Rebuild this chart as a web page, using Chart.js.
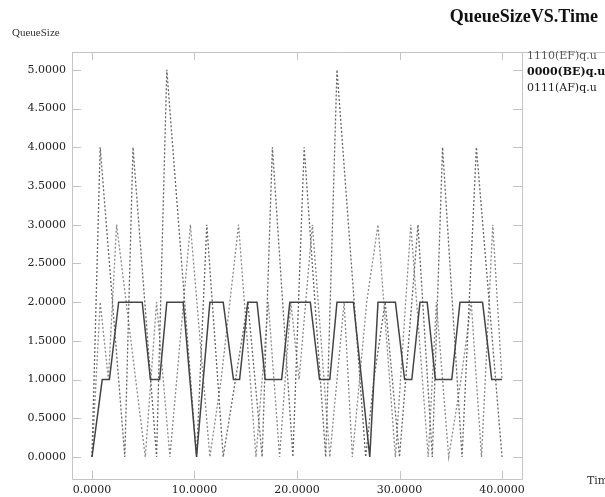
<!DOCTYPE html>
<html><head><meta charset="utf-8">
<script src="https://cdn.jsdelivr.net/npm/chart.js@4.4.0/dist/chart.umd.min.js"></script>
<style>html,body{margin:0;padding:0;background:#fff;overflow:hidden}canvas{display:block}</style>
</head><body>
<canvas id="c" width="605" height="497"></canvas>
<script>
const chartTitle = "QueueSizeVS.Time";
const yAxisTitle = "QueueSize";
const xAxisTitle = "Time";
const seriesLabels = ["1110(EF)q.u", "0000(BE)q.u", "0111(AF)q.u"];
const xTicks = [0, 10, 20, 30, 40];
const yTicks = [0, 0.5, 1, 1.5, 2, 2.5, 3, 3.5, 4, 4.5, 5];

// EF queue (solid)
const efTime = [0, 1.0, 1.7, 2.6, 4.9, 5.7, 6.6, 7.3, 8.9, 10.2, 11.5, 12.8, 13.8, 14.4, 15.2, 16.1, 16.9, 18.5, 19.3, 21.3, 22.2, 23.2, 23.9, 25.5, 27.1, 27.9, 29.6, 30.5, 31.2, 32.0, 32.7, 33.5, 35.1, 35.9, 38.1, 39.0, 40.0];
const efSize = [0, 1, 1, 2, 2, 1, 1, 2, 2, 0, 2, 2, 1, 1, 2, 2, 1, 1, 2, 2, 1, 1, 2, 2, 0, 2, 2, 1, 1, 2, 2, 1, 1, 2, 2, 1, 1];

// BE queue (dark dotted)
const beTime = [0, 0.8, 3.2, 4.0, 6.3, 7.3, 10.2, 11.2, 12.8, 14.0, 15.2, 16.6, 17.6, 19.6, 20.7, 22.8, 23.9, 26.7, 27.5, 28.6, 30.0, 31.8, 33.2, 34.2, 36.1, 37.5, 40.0];
const beSize = [0, 4, 0, 4, 0, 5, 0, 3, 0, 1, 2, 0, 4, 0, 4, 0, 5, 0, 1, 2, 0, 3, 0, 4, 0, 4, 0];

// AF queue (light dotted)
const afTime = [0, 0.8, 1.6, 2.4, 5.2, 6.3, 7.6, 9.6, 11.5, 12.6, 14.3, 16.0, 17.2, 18.3, 19.4, 20.2, 21.5, 23.2, 24.6, 25.4, 26.8, 27.9, 29.6, 31.1, 32.8, 33.6, 34.8, 36.0, 37.0, 38.0, 39.1, 40.0];
const afSize = [0, 2, 1, 3, 0, 2, 0, 3, 0, 1, 3, 0, 2, 0, 2, 1, 3, 0, 2, 0, 2, 3, 0, 3, 0, 2, 0, 1, 2, 0, 3, 1];

const toPts = (t, v) => t.map((x, i) => ({x: x, y: v[i]}));

const serif = "'Liberation Serif','DejaVu Serif',serif";
const wideSerif = "'DejaVu Serif','Liberation Serif',serif";

const decor = {
  id: 'decor',
  beforeDatasetsDraw(chart) {
    const ctx = chart.ctx, ca = chart.chartArea;
    const xs = chart.scales.x, ys = chart.scales.y;
    ctx.save();
    ctx.strokeStyle = '#c4c4c4';
    ctx.lineWidth = 1;
    ctx.beginPath();
    ctx.moveTo(ca.left + 0.5, ca.top + 0.5); ctx.lineTo(605, ca.top + 0.5);
    ctx.moveTo(ca.left + 0.5, ca.top); ctx.lineTo(ca.left + 0.5, ca.bottom + 0.5);
    ctx.lineTo(ca.right + 0.5, ca.bottom + 0.5);
    ctx.moveTo(ca.right + 0.5, ca.top); ctx.lineTo(ca.right + 0.5, ca.bottom + 0.5);
    yTicks.forEach(v => {
      const y = Math.round(ys.getPixelForValue(v)) + 0.5;
      ctx.moveTo(ca.left, y); ctx.lineTo(ca.left + 9, y);
      ctx.moveTo(ca.right - 9, y); ctx.lineTo(ca.right, y);
    });
    xTicks.forEach(v => {
      const x = Math.round(xs.getPixelForValue(v)) + 0.5;
      ctx.moveTo(x, ca.top); ctx.lineTo(x, ca.top + 8);
      ctx.moveTo(x, ca.bottom); ctx.lineTo(x, ca.bottom - 8);
    });
    ctx.stroke();
    ctx.restore();
  },
  afterDraw(chart) {
    const ctx = chart.ctx;
    ctx.save();
    ctx.fillStyle = '#111';
    ctx.font = "bold 18px " + serif;
    ctx.textAlign = 'right'; ctx.textBaseline = 'middle';
    ctx.fillText(chartTitle, 598, 17);
    ctx.font = "11px " + serif;
    ctx.textAlign = 'left';
    ctx.fillStyle = '#333';
    ctx.fillText(yAxisTitle, 12, 33);
    ctx.font = "11px " + wideSerif;
    ctx.fillText(xAxisTitle, 587, 481);
    const legY = [56, 72, 88];
    const legCol = ['#555', '#111', '#222'];
    const legW = ['normal', 'bold', 'normal'];
    chart.data.datasets.forEach((d, i) => {
      ctx.fillStyle = legCol[i];
      ctx.font = legW[i] + " 11px " + wideSerif;
      ctx.fillText(d.label, 527, legY[i]);
    });
    ctx.restore();
  }
};

new Chart(document.getElementById('c'), {
  type: 'line',
  data: {
    datasets: [
      {label: seriesLabels[0], data: toPts(efTime, efSize), borderColor: '#444', borderWidth: 1.5, pointRadius: 0, tension: 0, fill: false},
      {label: seriesLabels[1], data: toPts(beTime, beSize), borderColor: '#666', borderWidth: 1.3, borderDash: [2, 2], pointRadius: 0, tension: 0, fill: false},
      {label: seriesLabels[2], data: toPts(afTime, afSize), borderColor: '#8a8a8a', borderWidth: 1.3, borderDash: [2, 2], pointRadius: 0, tension: 0, fill: false}
    ]
  },
  options: {
    responsive: false,
    animation: false,
    events: [],
    layout: {padding: {left: 0, top: 52, right: 83, bottom: 0}},
    plugins: {legend: {display: false}, title: {display: false}, tooltip: {enabled: false}},
    scales: {
      x: {
        type: 'linear', min: -1.95, max: 41.95,
        grid: {display: false, drawTicks: false},
        border: {display: false},
        afterBuildTicks: s => { s.ticks = xTicks.map(v => ({value: v})); },
        afterFit: s => { s.height = 18; },
        ticks: {autoSkip: false, maxRotation: 0, padding: 5, color: '#222', font: {family: wideSerif, size: 11},
          callback: v => Number(v).toFixed(4)}
      },
      y: {
        type: 'linear', min: -0.284, max: 5.23,
        grid: {display: false, drawTicks: false},
        border: {display: false},
        afterBuildTicks: s => { s.ticks = yTicks.map(v => ({value: v})); },
        afterFit: s => { s.width = 72; },
        ticks: {autoSkip: false, padding: 6, color: '#222', font: {family: wideSerif, size: 11},
          callback: v => Number(v).toFixed(4)}
      }
    }
  },
  plugins: [decor]
});
</script>
</body></html>
